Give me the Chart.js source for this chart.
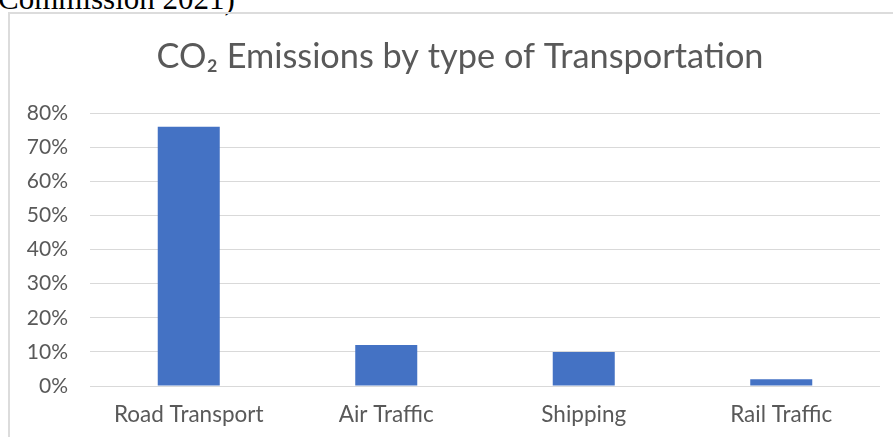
<!DOCTYPE html>
<html>
<head>
<meta charset="utf-8">
<script src="https://cdn.jsdelivr.net/npm/chart.js@4"></script>
<style>
  html, body { margin: 0; padding: 0; background: #fff; overflow: hidden; width: 893px; height: 437px; }
  #caption {
    position: absolute; left: -2px; top: -17px;
    font-family: "Liberation Serif", serif; font-size: 31px; line-height: 31px; color: #000;
    white-space: nowrap;
  }
  #frame {
    position: absolute; left: 8px; top: 12px; width: 930px; height: 470px;
    border-top: 2px solid #dcdcdc; border-left: 2px solid #dcdcdc;
  }
  #wrap { position: absolute; left: 10px; top: 14px; width: 900px; height: 440px; }
</style>
</head>
<body>
<div id="caption">Commission 2021)</div>
<div id="frame"></div>
<div id="wrap"><canvas id="chart"></canvas></div>
<script>
// Data (share of CO2 emissions)
const categories = ['Road Transport', 'Air Traffic', 'Shipping', 'Rail Traffic'];
const shares = [0.76, 0.12, 0.10, 0.02];
const yTicks = [0, 0.1, 0.2, 0.3, 0.4, 0.5, 0.6, 0.7, 0.8];

const textColor = '#595959';
const font = 'Lato, "Open Sans", sans-serif';

const ctx = document.getElementById('chart').getContext('2d');
new Chart(ctx, {
    type: 'bar',
    data: {
        labels: categories,
        datasets: [{
            data: shares,
            backgroundColor: '#4472C4',
            borderWidth: 0,
            categoryPercentage: 1,
            barPercentage: 0.314
        }]
    },
    options: {
        responsive: true,
        maintainAspectRatio: false,
        animation: false,
        layout: { padding: { left: 0, right: 0, bottom: 11 } },
        plugins: {
            legend: { display: false },
            tooltip: { enabled: false },
            title: {
                display: true,
                text: 'CO₂ Emissions by type of Transportation',
                color: textColor,
                font: { family: font, size: 34.3, weight: 'normal' },
                padding: { top: 22, bottom: 36 }
            }
        },
        scales: {
            x: {
                grid: { display: false, drawTicks: false },
                border: { display: false },
                ticks: { color: textColor, font: { family: font, size: 22.5 }, padding: 15 }
            },
            y: {
                min: 0,
                max: 0.8,
                afterFit: scale => { scale.width = 80; },
                afterBuildTicks: scale => { scale.ticks = yTicks.map(v => ({ value: v })); },
                grid: { color: '#d9d9d9', lineWidth: 1, drawTicks: false },
                border: { display: false },
                ticks: {
                    color: textColor,
                    font: { family: font, size: 21 },
                    padding: 22,
                    callback: v => Math.round(v * 100) + '%'
                }
            },
            // empty spacer on the right so the title stays centred on the whole frame
            spacer: {
                type: 'linear',
                position: 'right',
                afterFit: scale => { scale.width = 30; },
                grid: { display: false, drawTicks: false },
                border: { display: false },
                ticks: { display: false }
            }
        }
    }
});
</script>
</body>
</html>
